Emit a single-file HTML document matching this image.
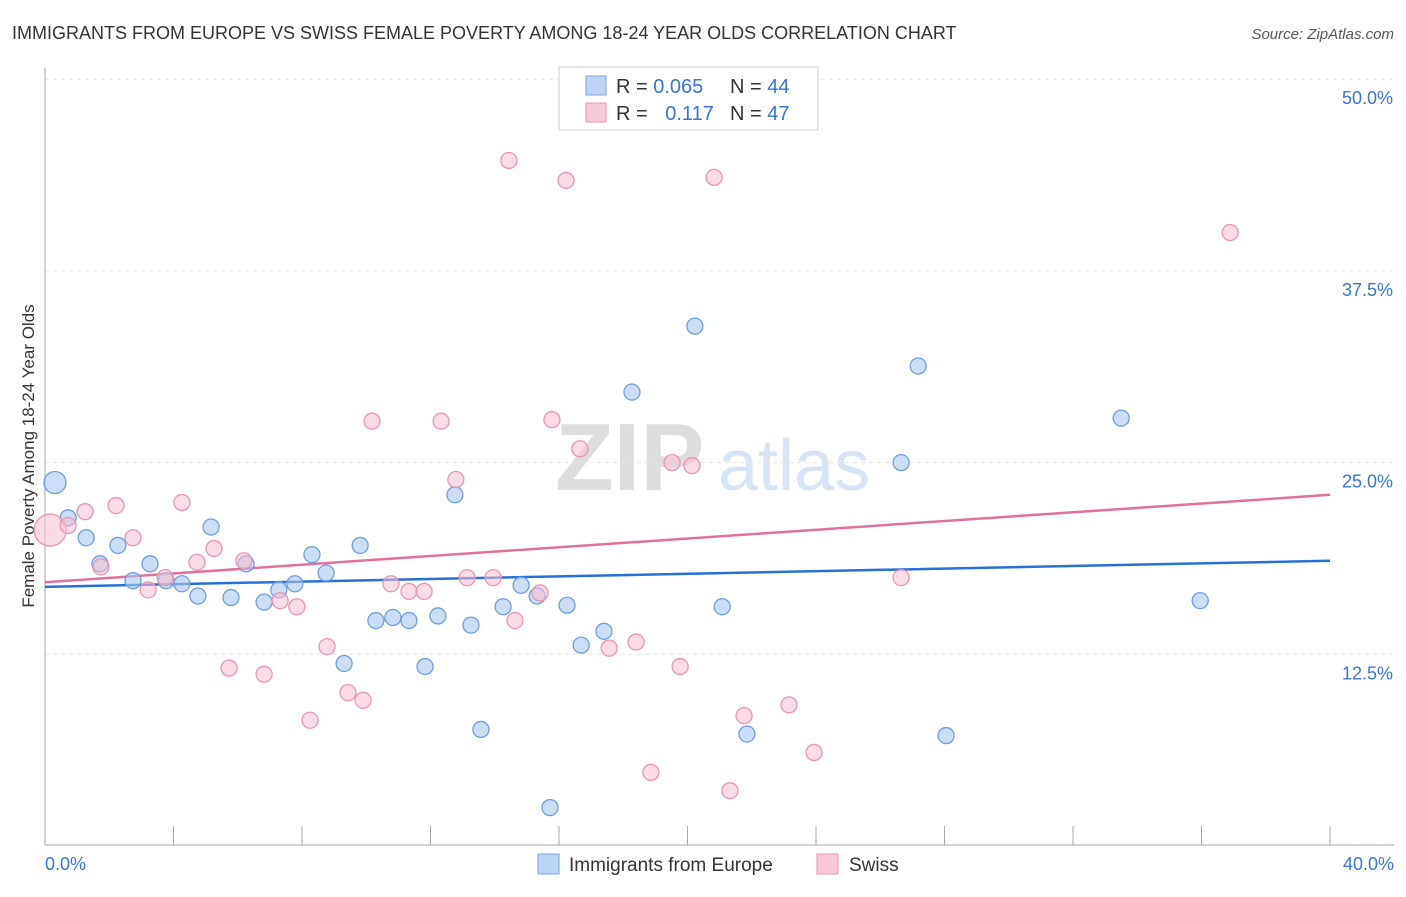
<!DOCTYPE html>
<html><head><meta charset="utf-8"><style>
body{margin:0;background:#fff;font-family:"Liberation Sans",sans-serif}
svg text{font-family:"Liberation Sans",sans-serif}
</style></head><body>
<svg id="chart" width="1406" height="892" viewBox="0 0 1406 892" xmlns="http://www.w3.org/2000/svg">
<text x="12" y="39" font-size="18" fill="#333">IMMIGRANTS FROM EUROPE VS SWISS FEMALE POVERTY AMONG 18-24 YEAR OLDS CORRELATION CHART</text>
<text x="1394" y="39" font-size="15" fill="#555" font-style="italic" text-anchor="end">Source: ZipAtlas.com</text>
<text transform="translate(34,456) rotate(-90)" font-size="17" fill="#333" text-anchor="middle">Female Poverty Among 18-24 Year Olds</text>
<g><text x="555" y="490" font-size="96" fill="#ddd" font-family="Liberation Serif" font-weight="bold">ZIP</text><text x="718" y="490" font-size="72" fill="#d6e4f5">atlas</text></g>
<g id="grid"></g><g id="axes"></g><g id="lines"></g><g id="points"></g>
<g>
<rect x="559" y="67" width="259" height="63" fill="#fff" stroke="#ccc"/>
<rect x="586" y="76" width="20" height="19" fill="#bcd4f5" stroke="#7fa7e0"/>
<rect x="586" y="103" width="20" height="19" fill="#f9c8d6" stroke="#e89ab2"/>
<text x="616" y="93" font-size="20" fill="#333">R = <tspan fill="#3a74d6">0.065</tspan></text>
<text x="730" y="93" font-size="20" fill="#333">N = <tspan fill="#3a74d6">44</tspan></text>
<text x="616" y="120" font-size="20" fill="#333">R = <tspan fill="#3a74d6" dx="12">0.117</tspan></text>
<text x="730" y="120" font-size="20" fill="#333">N = <tspan fill="#3a74d6">47</tspan></text>
</g>
<g>
<rect x="538" y="854" width="21" height="20" fill="#bcd4f5" stroke="#7fa7e0"/>
<text x="569" y="871" font-size="19" fill="#333">Immigrants from Europe</text>
<rect x="817" y="854" width="21" height="20" fill="#f9c8d6" stroke="#e89ab2"/>
<text x="849" y="871" font-size="19" fill="#333">Swiss</text>
</g>
</svg>
<script>
const blueX=[0.31,0.72,1.28,1.71,2.27,2.74,3.27,3.77,4.26,4.76,5.17,5.79,6.26,6.82,7.28,7.78,8.31,8.75,9.31,9.81,10.30,10.83,11.33,11.83,12.23,12.76,13.26,13.57,14.26,14.82,15.32,15.72,16.25,16.69,17.40,18.27,20.23,21.08,21.85,26.65,27.18,28.05,33.50,35.96];
const blueY=[23.7,21.4,20.1,18.4,19.6,17.3,18.4,17.3,17.1,16.3,20.8,16.2,18.4,15.9,16.7,17.1,19.0,17.8,11.9,19.6,14.7,14.9,14.7,11.7,15.0,22.9,14.4,7.6,15.6,17.0,16.3,2.5,15.7,13.1,14.0,29.6,33.9,15.6,7.3,25.0,31.3,7.2,27.9,16.0];
const pinkX=[0.16,0.72,1.25,1.74,2.21,2.74,3.21,3.74,4.26,4.73,5.26,5.73,6.19,6.82,7.32,7.84,8.25,8.78,9.43,9.90,10.18,10.77,11.33,11.80,12.33,12.79,13.14,13.95,14.44,14.63,15.41,15.78,16.22,16.65,17.56,18.40,18.86,19.52,19.77,20.14,20.83,21.76,21.32,23.16,23.94,26.65,36.89];
const pinkY=[20.6,20.9,21.8,18.2,22.2,20.1,16.7,17.5,22.4,18.5,19.4,11.6,18.6,11.2,16.0,15.6,8.2,13.0,10.0,9.5,27.7,17.1,16.6,16.6,27.7,23.9,17.5,17.5,44.7,14.7,16.5,27.8,43.4,25.9,12.9,13.3,4.8,25.0,11.7,24.8,43.6,8.5,3.6,9.2,6.1,17.5,40.0];
const blueTrend=[16.9,18.6];
const pinkTrend=[17.2,22.9];
const yTicks=[12.5,25.0,37.5,50.0];
const xTicks=[0,4,8,12,16,20,24,28,32,36,40];
const NS='http://www.w3.org/2000/svg';
const sx=v=>45+v/40*1285;
const sy=v=>846-v/12.5*191.7;
function mk(parent,tag,attrs){const e=document.createElementNS(NS,tag);for(const k in attrs)e.setAttribute(k,attrs[k]);document.getElementById(parent).appendChild(e);return e;}
yTicks.forEach(t=>{
  const l=mk('grid','line',{x1:45,x2:1394,y1:sy(t),y2:sy(t),stroke:'#e4e4e4','stroke-dasharray':'4,4'});
  
  
  const tx=mk('grid','text',{x:1393,y:sy(t)+25,'font-size':18,fill:'#3a74d6','text-anchor':'end'});
  tx.textContent=t.toFixed(1)+'%';
  
  
});
const ax=mk('axes','line',{x1:45,x2:1394,y1:845,y2:845,stroke:'#aaa'});


const ay=mk('axes','line',{x1:45,x2:45,y1:68,y2:845,stroke:'#aaa'});


xTicks.forEach(t=>{
  const l=mk('axes','line',{x1:sx(t),x2:sx(t),y1:826,y2:845,stroke:'#aaa'});
  
  
});
[[0,'0.0%','start',45],[40,'40.0%','end',1394]].forEach(([v,s,a,x])=>{
  const tx=mk('axes','text',{x:x,y:870,'font-size':18,fill:'#3a74d6','text-anchor':a});
  tx.textContent=s;
  
  
});
const bl=mk('lines','line',{x1:sx(0),x2:sx(40),y1:sy(blueTrend[0]),y2:sy(blueTrend[1]),stroke:'#2a6fd6','stroke-width':2.5});


const pl=mk('lines','line',{x1:sx(0),x2:sx(40),y1:sy(pinkTrend[0]),y2:sy(pinkTrend[1]),stroke:'#e0719a','stroke-width':2.5});


blueX.forEach((x,i)=>{
  const c=mk('points','circle',{cx:sx(x),cy:sy(blueY[i]),r:i==0?11:8,fill:'rgba(170,200,242,0.6)',stroke:'#6f9ee0','stroke-width':1.3});
  
  
});
pinkX.forEach((x,i)=>{
  const c=mk('points','circle',{cx:sx(x),cy:sy(pinkY[i]),r:i==0?16:8,fill:'rgba(248,190,208,0.55)',stroke:'#e897b0','stroke-width':1.3});
  
  
});
</script>
</body></html>
